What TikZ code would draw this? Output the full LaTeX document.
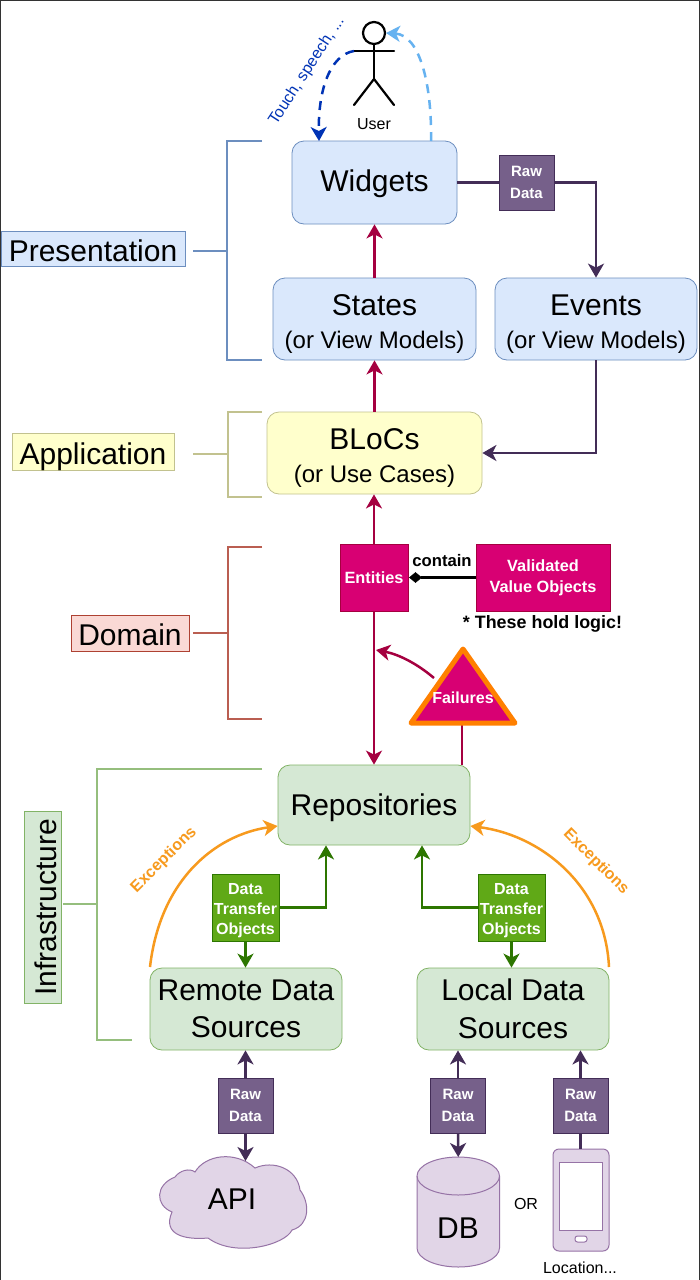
\documentclass[tikz,border=0pt]{standalone}
\usepackage{fontspec}
\setmainfont{Liberation Sans}
\usetikzlibrary{arrows.meta}
\definecolor{blueF}{HTML}{DAE8FC}\definecolor{blueD}{HTML}{6C8EBF}
\definecolor{yelF}{HTML}{FFFFCC}\definecolor{yelD}{HTML}{C2C28F}
\definecolor{redF}{HTML}{FAD9D5}\definecolor{redD}{HTML}{AE4132}
\definecolor{grnF}{HTML}{D5E8D4}\definecolor{grnD}{HTML}{82B366}
\definecolor{magF}{HTML}{D80073}\definecolor{magD}{HTML}{A50040}
\definecolor{purF}{HTML}{76608A}\definecolor{purD}{HTML}{432D57}
\definecolor{lilF}{HTML}{E1D5E7}\definecolor{lilD}{HTML}{9673A6}
\definecolor{dtoF}{HTML}{60A917}\definecolor{dtoD}{HTML}{2D7600}
\definecolor{orng}{HTML}{F79A1E}\definecolor{orngB}{HTML}{FF8000}
\definecolor{touch}{HTML}{0033B5}\definecolor{feedback}{HTML}{66B2F0}
\definecolor{framec}{HTML}{333333}
\tikzset{
  x=1pt,y=-1pt,
  tip/.style={-{Stealth[length=14pt,width=16pt,inset=4pt]}},
  conn/.style={line width=2.5pt},
  card/.style={draw,rounded corners=12pt,inner sep=0pt,align=center,line width=.8pt,font=\fontsize{24}{33}\selectfont},
  bigtxt/.style={font=\fontsize{30}{37.5}\selectfont},
  tag/.style={draw,inner sep=0pt,line width=.8pt,font=\fontsize{30}{36}\selectfont,text height=25pt,text depth=0pt},
  chip/.style={draw,inner sep=0pt,align=center,line width=1pt,text=white,
    font=\fontsize{15}{21.5}\selectfont\bfseries},
  raw/.style={chip,fill=purF,draw=purD,minimum width=55pt,minimum height=55pt},
  dto/.style={chip,fill=dtoF,draw=dtoD,minimum width=67pt,minimum height=67pt,
    font=\fontsize{16}{20}\selectfont\bfseries},
  ent/.style={chip,fill=magF,draw=magD,minimum height=67pt,font=\fontsize{16.3}{21}\selectfont\bfseries},
  bracket/.style={line width=2.4pt},
}
\newcommand{\cardtext}[2]{\rule{0pt}{30pt}{\fontsize{30}{33}\selectfont #1}\\#2}
\newcommand{\dtotext}{\rule{0pt}{16.5pt}Data\\Transfer\\Objects}
\begin{document}
\begin{tikzpicture}
\useasboundingbox (0,0) rectangle (700,1280);
\fill[white] (0,0) rectangle (700,1280);
\draw[framec,line width=1.5pt] (.5,1280) -- (.5,.5) -- (699.5,.5) -- (699.5,1280);

% brackets and layer labels
\node[tag,fill=blueF,draw=blueD,minimum width=184pt,minimum height=35pt] (lblP) at (93,248.5) {Presentation};
\node[tag,fill=yelF,draw=yelD,minimum width=162pt,minimum height=37pt] (lblA) at (93,451.5) {Application};
\node[tag,fill=redF,draw=redD,minimum width=118pt,minimum height=36pt] (lblD) at (130,633) {Domain};
\node[tag,fill=grnF,draw=grnD,rotate=90,minimum width=192pt,minimum height=37pt,text height=27pt] (lblI) at (42.5,907) {Infrastructure};

\draw[bracket,blueD] (262,141) -- (227,141) -- (227,360) -- (262,360);
\draw[bracket,blueD] ([xshift=8pt,yshift=-2.5pt]lblP.east) -- (227,251);
\draw[bracket,yelD] (262,412) -- (228,412) -- (228,497) -- (262,497);
\draw[bracket,yelD] ([xshift=19pt,yshift=-2.5pt]lblA.east) -- (228,454);
\draw[bracket,redD!85!white] (262,547) -- (228,547) -- (228,719) -- (262,719);
\draw[bracket,redD!85!white] ([xshift=4pt]lblD.east) -- (228,633);
\draw[bracket,grnD!85!white] (262,769) -- (97,769) -- (97,1040) -- (132,1040);
\draw[bracket,grnD!85!white] ([xshift=2pt,yshift=3pt]lblI.south) -- (97,904);

% main cards
\node[card,fill=blueF,draw=blueD,font=\fontsize{30}{36}\selectfont,text height=18.5pt,text depth=0pt,minimum width=165pt,minimum height=83pt] (widgets) at (374.5,182.5) {Widgets};
\node[card,fill=blueF,draw=blueD,minimum width=203pt,minimum height=82pt] (states) at (374.5,319) {\cardtext{States}{(or View Models)}};
\node[card,fill=blueF,draw=blueD,minimum width=202pt,minimum height=82pt] (events) at (596,319) {\cardtext{Events}{(or View Models)}};
\node[card,fill=yelF,draw=yelD,minimum width=215pt,minimum height=82pt] (blocs) at (374.5,453) {\cardtext{BLoCs}{(or Use Cases)}};
\node[card,fill=grnF,draw=grnD,font=\fontsize{30}{36}\selectfont,text height=20pt,text depth=0pt,minimum width=192pt,minimum height=80pt] (repos) at (374,805) {Repositories};
\node[card,fill=grnF,draw=grnD,bigtxt,minimum width=192pt,minimum height=82pt] (remote) at (246,1009) {Remote Data\\Sources};
\node[card,fill=grnF,draw=grnD,bigtxt,minimum width=192pt,minimum height=82pt] (local) at (513,1009) {Local Data\\Sources};

% domain
\node[ent,minimum width=68pt] (entities) at (374,577.5) {Entities};
\node[ent,minimum width=134pt] (vvo) at (543,577.5) {Validated\\Value Objects};
\node[font=\fontsize{17.9}{20}\selectfont\bfseries] (hold) at (542.5,624) {* These hold logic!};
\node[font=\fontsize{16.7}{20}\selectfont\bfseries] (contain) at (442,561) {contain};

% failures triangle
\coordinate (fA) at (463,649);
\coordinate (fL) at (411,723);
\coordinate (fR) at (515,723);
\coordinate (fOut) at (434,678);
\coordinate (fBase) at (462,725);
\coordinate (fHit) at (376,650);
\draw[conn,magD] (fBase) -- (fBase |- repos.north);
\draw[fill=magF,draw=orngB,line width=5pt,line join=round] (fA) -- (fL) -- (fR) -- cycle;
\node[text=white,font=\fontsize{16}{18}\selectfont\bfseries] (fail) at (463,698) {Failures};

% chips
\node[raw] (rawT) at (526.5,182.5) {Raw\\Data};
\node[dto] (dtoL) at (245.5,907.5) {\dtotext};
\node[dto] (dtoR) at (511.5,907.5) {\dtotext};
\node[raw] (rawA) at (245.5,1105.5) {Raw\\Data};
\node[raw] (rawD) at (458,1105.5) {Raw\\Data};
\node[raw] (rawP) at (580.5,1105.5) {Raw\\Data};

% cloud
\draw[fill=lilF,draw=lilD,line width=1pt] (195,1172)
  .. controls (205,1155) and (235,1150) .. (255,1168)
  .. controls (273,1160) and (297,1168) .. (300,1190)
  .. controls (310,1203) and (310,1225) .. (292,1230)
  .. controls (285,1245) and (235,1258) .. (208,1238)
  .. controls (185,1240) and (162,1235) .. (172,1212)
  .. controls (155,1205) and (155,1185) .. (175,1177)
  .. controls (180,1170) and (190,1168) .. (195,1172) -- cycle;
\node[bigtxt] (api) at (232,1199) {API};
\coordinate (apiTop) at (245.5,1161);

% cylinder
\draw[fill=lilF,draw=lilD,line width=1pt] (417,1176)
  .. controls (417,1165.5) and (435.5,1157) .. (458.25,1157)
  .. controls (481,1157) and (499.5,1165.5) .. (499.5,1176)
  -- (499.5,1248)
  .. controls (499.5,1258.5) and (481,1267) .. (458.25,1267)
  .. controls (435.5,1267) and (417,1258.5) .. (417,1248) -- cycle;
\draw[draw=lilD,line width=1pt] (417,1176)
  .. controls (417,1186.5) and (435.5,1195) .. (458.25,1195)
  .. controls (481,1195) and (499.5,1186.5) .. (499.5,1176);
\node[bigtxt] (db) at (458,1228) {DB};
\coordinate (dbTop) at (458.25,1157);

% phone
\node[draw=lilD,fill=lilF,rounded corners=6pt,line width=1pt,inner sep=0pt,minimum width=56pt,minimum height=102pt] (phone) at (581,1200) {};
\node[draw=lilD,fill=white,line width=1pt,inner sep=0pt,minimum width=43pt,minimum height=68pt] (screen) at (581,1196) {};
\node[draw=lilD,fill=white,rounded corners=2.5pt,line width=1pt,inner sep=0pt,minimum width=12pt,minimum height=6pt] (homebtn) at (581,1239) {};

\node[font=\fontsize{16}{18}\selectfont] (ortxt) at (526,1204) {OR};
\node[font=\fontsize{16}{18}\selectfont] (loc) at (580,1268) {Location...};

% actor
\node[draw=black,circle,line width=2.2pt,inner sep=0pt,minimum size=22pt] (head) at (374,33) {};
\coordinate (hip) at (374,79);
\coordinate (armL) at (354,51);
\coordinate (armR) at (394,51);
\draw[line width=2.2pt,line cap=round] (head.south) -- (hip);
\draw[line width=2.2pt,line cap=round] (armL) -- (armR);
\draw[line width=2.2pt,line cap=round] (354,105) -- (hip) -- (394,105);
\node[font=\fontsize{16}{18}\selectfont] (user) at (374,124) {User};

% connectors
\draw[conn,magD,tip] (states.north -| widgets.south) -- (widgets.south);
\draw[conn,magD,tip] (blocs.north) -- (blocs.north |- states.south);
\draw[conn,magD,tip] (entities.north) -- (entities.north |- blocs.south);
\draw[conn,magD,tip] (entities.south) -- (repos.north);
\draw[conn,magD,tip] (fOut) .. controls (415,662) and (397,654) .. (fHit);
\draw[conn,black] (vvo.west) -- ([xshift=12pt]entities.east);
\draw[black,fill=black,line width=.5pt] ([xshift=1pt]entities.east) -- ++(6,-5) -- ++(6,5) -- ++(-6,5) -- cycle;

\draw[conn,purD] (widgets.east) -- (rawT.west);
\draw[conn,purD,tip] (rawT.east) -| (events.north);
\draw[conn,purD,tip] (events.south) |- (blocs.east);

\draw[conn,dtoD,tip] (dtoL.east) -| ([xshift=-48pt]repos.south);
\draw[conn,dtoD,tip] (dtoR.west) -| ([xshift=48pt]repos.south);
\draw[conn,dtoD,tip] (dtoL.south) -- (dtoL.south |- remote.north);
\draw[conn,dtoD,tip] (dtoR.south) -- (dtoR.south |- local.north);

\draw[conn,purD,tip] (rawA.north) -- (rawA.north |- remote.south);
\draw[conn,purD,tip] (rawA.south) -- (apiTop);
\draw[conn,purD,tip] (rawD.north) -- (rawD.north |- local.south);
\draw[conn,purD,tip] (rawD.south) -- (dbTop);
\draw[conn,purD,tip] (rawP.north) -- (rawP.north |- local.south);
\draw[conn,purD] (rawP.south) -- (rawP.south |- phone.north);

% exceptions
\coordinate (exLs) at (150,967);
\coordinate (exRs) at (609,967);
\draw[conn,orng,tip] (exLs) .. controls (160,880) and (215,835) .. ([yshift=-21pt]repos.west);
\draw[conn,orng,tip] (exRs) .. controls (605,885) and (540,835) .. ([yshift=-21pt]repos.east);
\node[rotate=45,text=orng,font=\fontsize{16}{18}\selectfont\bfseries] (exL) at (164,860) {Exceptions};
\node[rotate=-45,text=orng,font=\fontsize{16}{18}\selectfont\bfseries] (exR) at (596,862) {Exceptions};

% touch and feedback
\coordinate (wTouch) at (319,141);
\coordinate (wBack) at (431,141);
\coordinate (headR) at (386,33);
\draw[conn,touch,tip,dash pattern=on 9pt off 7pt] (armL) .. controls (330,55) and (318,90) .. (wTouch);
\draw[conn,feedback,tip,dash pattern=on 9pt off 7pt] (wBack) .. controls (432,85) and (420,35) .. (headR);
\node[rotate=57,text=touch,font=\fontsize{16}{18}\selectfont] (touchtxt) at (307,71) {Touch, speech, ...};
\end{tikzpicture}
\end{document}
